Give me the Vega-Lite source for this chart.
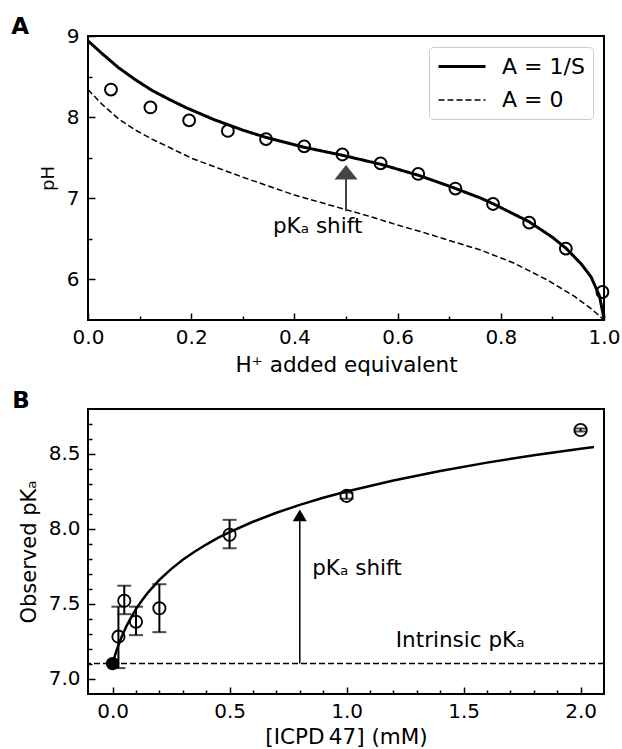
{
  "$schema": "https://vega.github.io/schema/vega-lite/v6.json",
  "background": "white",
  "padding": {"left": 10, "top": 15, "right": 5, "bottom": 0},
  "spacing": 12,
  "config": {
    "font": "DejaVu Sans",
    "view": {"stroke": "black", "strokeWidth": 2},
    "axis": {"labelFontSize": 20, "titleFontSize": 21.5, "labelColor": "black", "titleColor": "black", "titleFontWeight": "normal", "tickColor": "black", "tickWidth": 1.5, "domain": false, "grid": false, "labelFont": "DejaVu Sans", "titleFont": "DejaVu Sans", "labelFlush": false},
    "title": {"font": "DejaVu Sans", "color": "black"}
  },
  "datasets": {
    "curvesA": [
      {"h": 0, "pH": 8.94, "series": "A = 1/S"},
      {"h": 0.027, "pH": 8.785, "series": "A = 1/S"},
      {"h": 0.059, "pH": 8.61, "series": "A = 1/S"},
      {"h": 0.092, "pH": 8.46, "series": "A = 1/S"},
      {"h": 0.124, "pH": 8.33, "series": "A = 1/S"},
      {"h": 0.157, "pH": 8.22, "series": "A = 1/S"},
      {"h": 0.189, "pH": 8.12, "series": "A = 1/S"},
      {"h": 0.244, "pH": 7.97, "series": "A = 1/S"},
      {"h": 0.3, "pH": 7.84, "series": "A = 1/S"},
      {"h": 0.345, "pH": 7.75, "series": "A = 1/S"},
      {"h": 0.418, "pH": 7.63, "series": "A = 1/S"},
      {"h": 0.493, "pH": 7.53, "series": "A = 1/S"},
      {"h": 0.567, "pH": 7.42, "series": "A = 1/S"},
      {"h": 0.642, "pH": 7.28, "series": "A = 1/S"},
      {"h": 0.7, "pH": 7.15, "series": "A = 1/S"},
      {"h": 0.762, "pH": 7.0, "series": "A = 1/S"},
      {"h": 0.786, "pH": 6.93, "series": "A = 1/S"},
      {"h": 0.855, "pH": 6.71, "series": "A = 1/S"},
      {"h": 0.9, "pH": 6.52, "series": "A = 1/S"},
      {"h": 0.927, "pH": 6.38, "series": "A = 1/S"},
      {"h": 0.956, "pH": 6.19, "series": "A = 1/S"},
      {"h": 0.975, "pH": 6.03, "series": "A = 1/S"},
      {"h": 0.991, "pH": 5.8, "series": "A = 1/S"},
      {"h": 1.0, "pH": 5.52, "series": "A = 1/S"},
      {"h": 0, "pH": 8.34, "series": "A = 0"},
      {"h": 0.027, "pH": 8.16, "series": "A = 0"},
      {"h": 0.059, "pH": 7.98, "series": "A = 0"},
      {"h": 0.092, "pH": 7.84, "series": "A = 0"},
      {"h": 0.124, "pH": 7.73, "series": "A = 0"},
      {"h": 0.163, "pH": 7.61, "series": "A = 0"},
      {"h": 0.202, "pH": 7.49, "series": "A = 0"},
      {"h": 0.253, "pH": 7.37, "series": "A = 0"},
      {"h": 0.3, "pH": 7.26, "series": "A = 0"},
      {"h": 0.341, "pH": 7.17, "series": "A = 0"},
      {"h": 0.4, "pH": 7.04, "series": "A = 0"},
      {"h": 0.45, "pH": 6.95, "series": "A = 0"},
      {"h": 0.5, "pH": 6.86, "series": "A = 0"},
      {"h": 0.55, "pH": 6.77, "series": "A = 0"},
      {"h": 0.6, "pH": 6.67, "series": "A = 0"},
      {"h": 0.65, "pH": 6.58, "series": "A = 0"},
      {"h": 0.7, "pH": 6.48, "series": "A = 0"},
      {"h": 0.762, "pH": 6.36, "series": "A = 0"},
      {"h": 0.826, "pH": 6.2, "series": "A = 0"},
      {"h": 0.891, "pH": 5.99, "series": "A = 0"},
      {"h": 0.943, "pH": 5.79, "series": "A = 0"},
      {"h": 0.975, "pH": 5.64, "series": "A = 0"},
      {"h": 1.0, "pH": 5.5, "series": "A = 0"}
    ],
    "obsA": [
      {"h": 0.0445, "pH": 8.34},
      {"h": 0.121, "pH": 8.12},
      {"h": 0.196, "pH": 7.96},
      {"h": 0.271, "pH": 7.83},
      {"h": 0.345, "pH": 7.73},
      {"h": 0.419, "pH": 7.64},
      {"h": 0.493, "pH": 7.54},
      {"h": 0.567, "pH": 7.43},
      {"h": 0.64, "pH": 7.3},
      {"h": 0.712, "pH": 7.12},
      {"h": 0.785, "pH": 6.93},
      {"h": 0.855, "pH": 6.7},
      {"h": 0.926, "pH": 6.38},
      {"h": 0.997, "pH": 5.845}
    ],
    "fitB": [
      {"c": 0, "pKa": 7.1},
      {"c": 0.005, "pKa": 7.128},
      {"c": 0.01, "pKa": 7.153},
      {"c": 0.015, "pKa": 7.178},
      {"c": 0.02, "pKa": 7.201},
      {"c": 0.03, "pKa": 7.244},
      {"c": 0.04, "pKa": 7.283},
      {"c": 0.06, "pKa": 7.352},
      {"c": 0.08, "pKa": 7.411},
      {"c": 0.1, "pKa": 7.464},
      {"c": 0.12, "pKa": 7.51},
      {"c": 0.15, "pKa": 7.572},
      {"c": 0.2, "pKa": 7.659},
      {"c": 0.25, "pKa": 7.731},
      {"c": 0.3, "pKa": 7.793},
      {"c": 0.35, "pKa": 7.847},
      {"c": 0.4, "pKa": 7.895},
      {"c": 0.45, "pKa": 7.939},
      {"c": 0.5, "pKa": 7.978},
      {"c": 0.6, "pKa": 8.047},
      {"c": 0.7, "pKa": 8.107},
      {"c": 0.8, "pKa": 8.16},
      {"c": 0.9, "pKa": 8.207},
      {"c": 1.0, "pKa": 8.249},
      {"c": 1.2, "pKa": 8.323},
      {"c": 1.4, "pKa": 8.386},
      {"c": 1.6, "pKa": 8.442},
      {"c": 1.8, "pKa": 8.491},
      {"c": 2.0, "pKa": 8.535},
      {"c": 2.057, "pKa": 8.546}
    ],
    "obsB": [
      {"c": 0.025, "pKa": 7.28, "lo": 7.07, "hi": 7.48},
      {"c": 0.05, "pKa": 7.52, "lo": 7.43, "hi": 7.62},
      {"c": 0.1, "pKa": 7.38, "lo": 7.29, "hi": 7.48},
      {"c": 0.2, "pKa": 7.47, "lo": 7.31, "hi": 7.63},
      {"c": 0.5, "pKa": 7.96, "lo": 7.87, "hi": 8.06},
      {"c": 1.0, "pKa": 8.22, "lo": 8.2, "hi": 8.24},
      {"c": 2.0, "pKa": 8.66, "lo": 8.65, "hi": 8.67}
    ]
  },
  "vconcat": [
    {
      "width": 516,
      "height": 284,
      "title": {"text": "A", "anchor": "start", "frame": "bounds", "fontSize": 23, "fontWeight": "bold", "offset": -13, "dx": -28},
      "layer": [
        {
          "data": {"name": "curvesA"},
          "mark": {"type": "line", "color": "black"},
          "encoding": {
            "x": {"field": "h", "type": "quantitative", "scale": {"domain": [0, 1], "nice": false, "zero": false},
                  "axis": {"orient": "bottom", "values": [0, 0.2, 0.4, 0.6, 0.8, 1], "format": ".1f", "tickSize": -7, "labelPadding": 14, "title": "H⁺ added equivalent", "titlePadding": 7}},
            "y": {"field": "pH", "type": "quantitative", "scale": {"domain": [5.5, 9], "nice": false, "zero": false},
                  "axis": {"orient": "left", "values": [6, 7, 8, 9], "format": "d", "tickSize": -7, "labelPadding": 16, "title": "pH", "titleFontSize": 18, "titlePadding": 9}},
            "strokeDash": {"field": "series", "type": "nominal", "scale": {"domain": ["A = 1/S", "A = 0"], "range": [[1, 0], [6, 3]]},
                           "legend": {"title": null, "orient": "top-right", "offset": 11, "symbolType": "M-1,0L3.7,0", "symbolSize": 400, "symbolStrokeColor": "black", "symbolFillColor": "transparent", "labelFontSize": 22, "labelColor": "black", "strokeColor": "#cccccc", "cornerRadius": 4, "padding": 8, "fillColor": "white", "rowPadding": 11, "labelOffset": 42}},
            "strokeWidth": {"field": "series", "type": "nominal", "scale": {"domain": ["A = 1/S", "A = 0"], "range": [3, 1.5]},
                            "legend": {"title": null, "orient": "top-right", "offset": 11, "symbolType": "M-1,0L3.7,0", "symbolSize": 400, "symbolStrokeColor": "black", "symbolFillColor": "transparent", "labelFontSize": 22, "labelColor": "black", "strokeColor": "#cccccc", "cornerRadius": 4, "padding": 8, "fillColor": "white", "rowPadding": 11, "labelOffset": 42}}
          }
        },
        {
          "data": {"name": "obsA"},
          "mark": {"type": "point", "shape": "circle", "filled": false, "stroke": "black", "strokeWidth": 2, "size": 140, "opacity": 1},
          "encoding": {
            "x": {"field": "h", "type": "quantitative", "axis": null},
            "y": {"field": "pH", "type": "quantitative", "axis": null}
          }
        },
        {
          "data": {"values": [{"x": 0.5, "y0": 6.84, "y1": 7.24}]},
          "mark": {"type": "rule", "color": "#444444", "strokeWidth": 2},
          "encoding": {
            "x": {"field": "x", "type": "quantitative", "axis": {"orient": "bottom", "values": [0.1, 0.3, 0.5, 0.7, 0.9], "labels": false, "tickSize": -4, "title": null}},
            "y": {"field": "y0", "type": "quantitative", "axis": {"orient": "left", "values": [6.5, 7.5, 8.5], "labels": false, "tickSize": -4, "title": null}},
            "y2": {"field": "y1"}
          }
        },
        {
          "data": {"values": [{"x": 0.5, "y": 7.32}]},
          "mark": {"type": "point", "shape": "M-1,0.635L1,0.635L0,-0.635Z", "filled": true, "color": "#444444", "size": 529, "opacity": 1},
          "encoding": {
            "x": {"field": "x", "type": "quantitative", "axis": null},
            "y": {"field": "y", "type": "quantitative", "axis": null}
          }
        },
        {
          "data": {"values": [{"x": 0.445, "y": 6.65, "label": "pKₐ shift"}]},
          "mark": {"type": "text", "fontSize": 21.5, "align": "center", "baseline": "middle", "color": "black"},
          "encoding": {
            "x": {"field": "x", "type": "quantitative", "axis": null},
            "y": {"field": "y", "type": "quantitative", "axis": null},
            "text": {"field": "label"}
          }
        }
      ],
      "resolve": {"axis": {"x": "independent", "y": "independent"}}
    },
    {
      "width": 516,
      "height": 285,
      "title": {"text": "B", "anchor": "start", "frame": "bounds", "fontSize": 23, "fontWeight": "bold", "offset": -4, "dx": -6},
      "layer": [
        {
          "data": {"name": "fitB"},
          "mark": {"type": "line", "color": "black", "strokeWidth": 2.5},
          "encoding": {
            "x": {"field": "c", "type": "quantitative", "scale": {"domain": [-0.105, 2.1], "nice": false, "zero": false},
                  "axis": {"orient": "bottom", "values": [0, 0.5, 1, 1.5, 2], "format": ".1f", "tickSize": -7, "labelPadding": 14, "title": "[ICPD\u200947] (mM)", "titlePadding": 5}},
            "y": {"field": "pKa", "type": "quantitative", "scale": {"domain": [6.897, 8.8], "nice": false, "zero": false},
                  "axis": {"orient": "left", "values": [7, 7.5, 8, 8.5], "format": ".1f", "tickSize": -7, "labelPadding": 15, "title": "Observed pKₐ", "titleFontSize": 21, "titlePadding": 9}}
          }
        },
        {
          "data": {"values": [{"y": 7.1}]},
          "mark": {"type": "rule", "color": "black", "strokeWidth": 1.5, "strokeDash": [6, 3]},
          "encoding": {
            "y": {"field": "y", "type": "quantitative", "axis": null}
          }
        },
        {
          "data": {"name": "obsB"},
          "mark": {"type": "errorbar", "ticks": {"size": 14, "thickness": 2, "color": "black"}, "rule": {"strokeWidth": 2, "color": "black"}},
          "encoding": {
            "x": {"field": "c", "type": "quantitative", "axis": null},
            "y": {"field": "lo", "type": "quantitative", "axis": null},
            "y2": {"field": "hi"}
          }
        },
        {
          "data": {"name": "obsB"},
          "mark": {"type": "point", "shape": "circle", "filled": false, "stroke": "black", "strokeWidth": 1.8, "size": 150, "opacity": 1},
          "encoding": {
            "x": {"field": "c", "type": "quantitative", "axis": null},
            "y": {"field": "pKa", "type": "quantitative", "axis": null}
          }
        },
        {
          "data": {"values": [{"c": 0, "pKa": 7.1}]},
          "mark": {"type": "point", "shape": "circle", "filled": true, "color": "black", "size": 180, "opacity": 1},
          "encoding": {
            "x": {"field": "c", "type": "quantitative", "axis": null},
            "y": {"field": "pKa", "type": "quantitative", "axis": null}
          }
        },
        {
          "data": {"values": [{"x": 0.8, "y0": 7.1, "y1": 8.06}]},
          "mark": {"type": "rule", "color": "black", "strokeWidth": 1.5},
          "encoding": {
            "x": {"field": "x", "type": "quantitative", "axis": {"orient": "bottom", "values": [0.1, 0.2, 0.3, 0.4, 0.6, 0.7, 0.8, 0.9, 1.1, 1.2, 1.3, 1.4, 1.6, 1.7, 1.8, 1.9], "labels": false, "tickSize": -4, "title": null}},
            "y": {"field": "y0", "type": "quantitative", "axis": {"orient": "left", "values": [7.1, 7.2, 7.3, 7.4, 7.6, 7.7, 7.8, 7.9, 8.1, 8.2, 8.3, 8.4, 8.6, 8.7], "labels": false, "tickSize": -4, "title": null}},
            "y2": {"field": "y1"}
          }
        },
        {
          "data": {"values": [{"x": 0.8, "y": 8.09}]},
          "mark": {"type": "point", "shape": "M-1,0.85L1,0.85L0,-0.85Z", "filled": true, "color": "black", "size": 196, "opacity": 1},
          "encoding": {
            "x": {"field": "x", "type": "quantitative", "axis": null},
            "y": {"field": "y", "type": "quantitative", "axis": null}
          }
        },
        {
          "data": {"values": [{"x": 0.853, "y": 7.73, "label": "pKₐ shift"}, {"x": 1.21, "y": 7.25, "label": "Intrinsic pKₐ"}]},
          "mark": {"type": "text", "fontSize": 21.5, "align": "left", "baseline": "middle", "color": "black"},
          "encoding": {
            "x": {"field": "x", "type": "quantitative", "axis": null},
            "y": {"field": "y", "type": "quantitative", "axis": null},
            "text": {"field": "label"}
          }
        }
      ],
      "resolve": {"axis": {"x": "independent", "y": "independent"}}
    }
  ]
}
